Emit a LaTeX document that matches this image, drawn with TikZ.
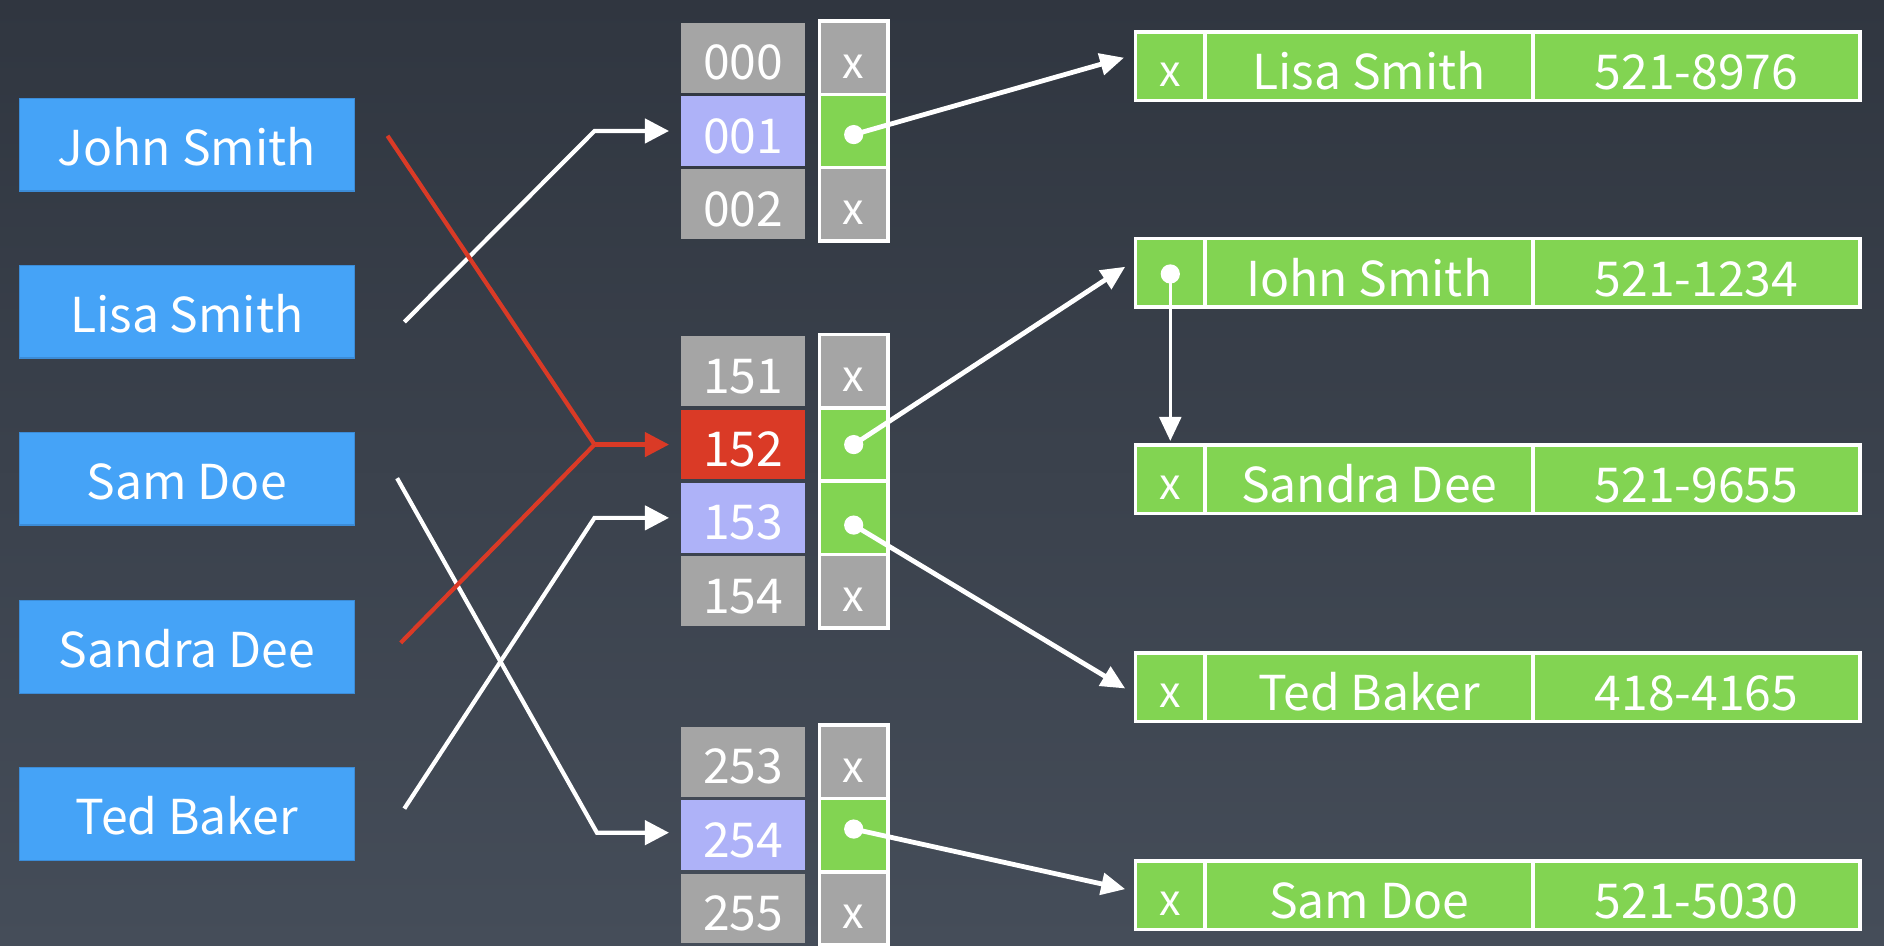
\documentclass[tikz,border=0pt]{standalone}
\usepackage{fontspec}
\setmainfont{Noto Sans CJK SC}
\usetikzlibrary{arrows.meta,calc}
\definecolor{bgtop}{RGB}{48,54,64}
\definecolor{bgbot}{RGB}{69,77,89}
\definecolor{keyblue}{RGB}{69,163,247}
\definecolor{keyedge}{RGB}{60,140,215}
\definecolor{idxgrey}{RGB}{165,165,165}
\definecolor{idxlav}{RGB}{174,178,248}
\definecolor{idxred}{RGB}{218,58,38}
\definecolor{recgreen}{RGB}{130,212,82}
\definecolor{hred}{RGB}{218,58,38}
\tikzset{
  txt/.style={text=white, inner sep=0pt, text height=36.8pt, text depth=0pt, font=\fontsize{40}{44}\selectfont},
  keybox/.style={txt, fill=keyblue, draw=keyedge, line width=1pt, minimum width=279pt, minimum height=77pt, text height=34.8pt},
  idx/.style={txt, fill=idxgrey, minimum width=103pt, minimum height=58pt},
  idxlavbox/.style={idx, fill=idxlav},
  idxredbox/.style={idx, fill=idxred},
  ptr/.style={txt, fill=idxgrey, draw=white, line width=3pt, minimum width=57pt, minimum height=61pt, font=\fontsize{36}{40}\selectfont, text height=34pt},
  ptrg/.style={ptr, fill=recgreen},
  rec/.style={txt, fill=recgreen, draw=white, line width=3pt, minimum height=57pt, text height=39pt},
  rec1/.style={rec, minimum width=58pt, font=\fontsize{36}{40}\selectfont, text height=34pt},
  rec2/.style={rec, minimum width=273pt},
  rec3/.style={rec, minimum width=272pt},
  wline/.style={draw=white, line width=3.5pt},
  rline/.style={draw=hred, line width=3.5pt},
  warrow/.style={wline, -{Triangle[length=20pt,width=20pt]}, shorten >=10pt},
  rarrow/.style={rline, -{Triangle[length=20pt,width=20pt]}, shorten >=10pt},
  parrow/.style={draw=white, line width=4pt, -{Triangle[length=20pt,width=18pt]}},
  dot/.style={circle, fill=white, inner sep=0pt, minimum size=16pt}
}
\begin{document}
\begin{tikzpicture}[x=1pt,y=-1pt]
\useasboundingbox (0,0) rectangle (1568,787);
\shade[top color=bgtop, bottom color=bgbot] (0,0) rectangle (1568,787);

% keys
\node[keybox] (kJohn)   at (155.5,120.5) {John Smith};
\node[keybox] (kLisa)   at (155.5,259.5) {Lisa Smith};
\node[keybox] (kSam)    at (155.5,398.5) {Sam Doe};
\node[keybox] (kSandra) at (155.5,538.5) {Sandra Dee};
\node[keybox] (kTed)    at (155.5,677.5) {Ted Baker};

% bucket group 1
\node[idx]       (i000) at (618.5,48)  {000};
\node[idxlavbox] (i001) at (618.5,109) {001};
\node[idx]       (i002) at (618.5,170) {002};
\node[ptr]  (p000) at (710.5,48)  {x};
\node[ptrg] (p001) at (710.5,109) {};
\node[ptr]  (p002) at (710.5,170) {x};
% bucket group 2
\node[idx]       (i151) at (618.5,309) {151};
\node[idxredbox] (i152) at (618.5,370) {152};
\node[idxlavbox] (i153) at (618.5,431) {153};
\node[idx]       (i154) at (618.5,492) {154};
\node[ptr]  (p151) at (710.5,309) {x};
\node[ptrg] (p152) at (710.5,370) {};
\node[ptrg] (p153) at (710.5,431) {};
\node[ptr]  (p154) at (710.5,492) {x};
% bucket group 3
\node[idx]       (i253) at (618.5,634) {253};
\node[idxlavbox] (i254) at (618.5,695) {254};
\node[idx]       (i255) at (618.5,756) {255};
\node[ptr]  (p253) at (710.5,634) {x};
\node[ptrg] (p254) at (710.5,695) {};
\node[ptr]  (p255) at (710.5,756) {x};

% records
\node[rec1] (rL1) at (974,55) {x};
\node[rec2] (rL2) at (1139.5,55) {Lisa Smith};
\node[rec3] (rL3) at (1412,55) {521-8976};
\node[rec1] (rJ1) at (974,227) {};
\node[rec2] (rJ2) at (1139.5,227) {Iohn Smith};
\node[rec3] (rJ3) at (1412,227) {521-1234};
\node[rec1] (rS1) at (974,399) {x};
\node[rec2] (rS2) at (1139.5,399) {Sandra Dee};
\node[rec3] (rS3) at (1412,399) {521-9655};
\node[rec1] (rT1) at (974,572) {x};
\node[rec2] (rT2) at (1139.5,572) {Ted Baker};
\node[rec3] (rT3) at (1412,572) {418-4165};
\node[rec1] (rD1) at (974,745) {x};
\node[rec2] (rD2) at (1139.5,745) {Sam Doe};
\node[rec3] (rD3) at (1412,745) {521-5030};

% dots
\node[dot] (d001) at ($(p001.center)+(0,3)$) {};
\node[dot] (d152) at ($(p152.center)+(0,0)$) {};
\node[dot] (d153) at ($(p153.center)+(0,6)$) {};
\node[dot] (d254) at ($(p254.center)+(0,-5)$) {};
\node[dot] (dJ)   at ($(rJ1.center)+(0,1)$) {};

% start points and bends
\coordinate (sLisa)   at ($(kLisa.east)+(41,8.5)$);
\coordinate (sJohn)   at ($(kJohn.east)+(27,-7.5)$);
\coordinate (sSandra) at ($(kSandra.east)+(38,-3.5)$);
\coordinate (sSam)    at ($(kSam.east)+(35,-0.5)$);
\coordinate (sTed)    at ($(kTed.east)+(41,-4.5)$);
\coordinate (b001) at ($(i001.west)+(-72,0)$);
\coordinate (b152) at ($(i152.west)+(-72,0)$);
\coordinate (b153) at ($(i153.west)+(-72,0)$);
\coordinate (b254) at ($(i254.west)+(-70,-2)$);

% key to bucket
\draw[warrow] (sLisa) -- (b001) -- (i001.west);
\draw[warrow] (sTed) -- (b153) -- (i153.west);
\draw[warrow] (sSam) -- (b254) -- ($(b254)+(70,0)$);
\draw[rline] (sJohn) -- (b152);
\draw[rline] (sSandra) -- (b152);
\draw[rarrow] (b152) -- (i152.west);

% pointers
\coordinate (tL) at ($(rL1.west)+(-8,-7)$);
\coordinate (tJ) at ($(rJ1.west)+(-7,-5)$);
\coordinate (tT) at ($(rT1.west)+(-7,1)$);
\coordinate (tD) at ($(rD1.west)+(-7,-5)$);
\draw[parrow] (d001.center) -- (tL);
\draw[parrow] (d152.center) -- (tJ);
\draw[parrow] (d153.center) -- (tT);
\draw[parrow] (d254.center) -- (tD);
\draw[parrow, line width=3pt] (dJ.center) -- ($(rS1.north)+(0,-2)$);
\end{tikzpicture}
\end{document}
